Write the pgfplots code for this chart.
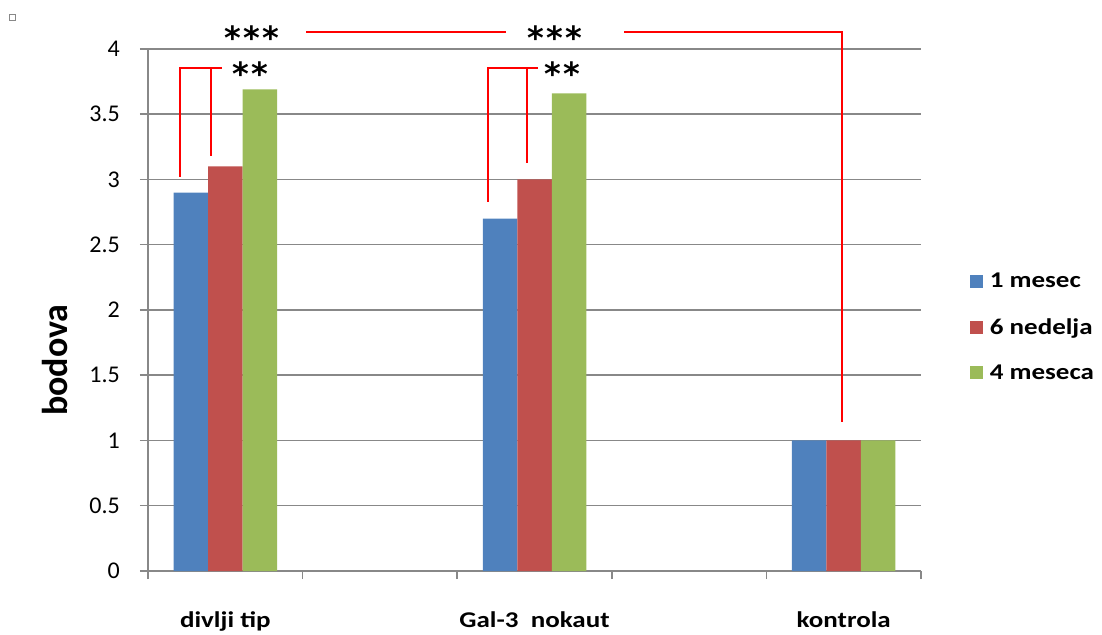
\documentclass[border=0pt]{standalone}
\usepackage{pgfplots}
\pgfplotsset{compat=1.18}
\usepackage{fontspec}
\setmainfont{Carlito}
\newfontfamily\djv{DejaVu Sans}
\definecolor{cblue}{HTML}{4F81BD}
\definecolor{cred}{HTML}{C0504D}
\definecolor{cgreen}{HTML}{9BBB59}
\definecolor{cgrid}{HTML}{888888}
\newcommand{\bx}[1]{\scalebox{1.2}[1]{\bfseries #1}}
\begin{document}
\begin{tikzpicture}
\path[use as bounding box] (0,0) rectangle (1102bp,635bp);
\draw[cgrid, line width=1bp] (9bp,614bp) rectangle (15bp,620bp);
\begin{axis}[
  at={(148bp,64bp)}, anchor=south west,
  scale only axis, width=773bp, height=522bp,
  xmin=-0.5, xmax=4.5, ymin=0, ymax=4,
  ybar=0pt, bar width=34.5bp,
  axis lines*=left,
  axis line style={cgrid, line width=1.5bp},
  tick style={cgrid, line width=1.5bp},
  tick align=outside, major tick length=8bp,
  ytick={0,0.5,...,4},
  yticklabels={0,0.5,1,1.5,2,2.5,3,3.5,4},
  ymajorgrids, grid style={cgrid, line width=1.5bp},
  xtick={-0.5,0.5,1.5,2.5,3.5,4.5},
  xticklabels={},
  extra x ticks={0,2,4},
  extra x tick labels={\bx{divlji tip},\bx{Gal-3\ \ nokaut},\bx{kontrola}},
  extra x tick style={major tick length=0pt, grid=none,
     xticklabel style={anchor=base, yshift=-56bp, font=\fontsize{22.5bp}{26bp}\selectfont}},
  yticklabel style={font=\fontsize{24bp}{28bp}\selectfont, anchor=east, inner sep=0pt, xshift=-20bp},
  /pgf/number format/assume math mode=true,
  ylabel={\bfseries bodova},
  ylabel style={at={(axis description cs:-0.12,0.404)}, anchor=center, font=\fontsize{36bp}{38bp}\selectfont},
  legend style={draw=none, fill=none, at={(1.063,0.4674)}, anchor=west, inner sep=0pt,
     font=\fontsize{22.5bp}{26bp}\selectfont, row sep=25bp, cells={anchor=west}},
  legend image code/.code={\fill[#1] (0bp,-6.5bp) rectangle (13bp,6.5bp);},
  clip=false,
]
\addplot[fill=cblue, draw=none] coordinates {(0,2.90) (2,2.70) (4,1.00)};
\addplot[fill=cred, draw=none] coordinates {(0,3.10) (2,3.00) (4,1.00)};
\addplot[fill=cgreen, draw=none] coordinates {(0,3.69) (2,3.66) (4,1.00)};
\legend{\hspace{5bp}\bx{1 mesec},\hspace{5bp}\bx{6 nedelja},\hspace{5bp}\bx{4 meseca}}
\draw[red, line width=2bp] (axis cs:-0.291,3.021) -- (axis cs:-0.291,3.857) -- (axis cs:-0.023,3.857);
\draw[red, line width=2bp] (axis cs:-0.094,3.182) -- (axis cs:-0.094,3.857);
\draw[red, line width=2bp] (axis cs:1.701,2.830) -- (axis cs:1.701,3.857) -- (axis cs:2.025,3.857);
\draw[red, line width=2bp] (axis cs:1.953,3.129) -- (axis cs:1.953,3.857);
\draw[red, line width=2bp] (axis cs:0.522,4.129) -- (axis cs:1.816,4.129);
\draw[red, line width=2bp] (axis cs:2.579,4.129) -- (axis cs:3.987,4.129) -- (axis cs:3.987,1.144);
\node[font=\djv\fontsize{32bp}{36bp}\selectfont\bfseries, anchor=center, inner sep=0pt] at (axis cs:0.173,4.09) {*\kern2.5bp*\kern2.5bp*};
\node[font=\djv\fontsize{32bp}{36bp}\selectfont\bfseries, anchor=center, inner sep=0pt] at (axis cs:2.133,4.09) {*\kern2.5bp*\kern2.5bp*};
\node[font=\djv\fontsize{32bp}{36bp}\selectfont\bfseries, anchor=center, inner sep=0pt] at (axis cs:0.160,3.81) {*\kern2.5bp*};
\node[font=\djv\fontsize{32bp}{36bp}\selectfont\bfseries, anchor=center, inner sep=0pt] at (axis cs:2.178,3.81) {*\kern2.5bp*};
\end{axis}
\end{tikzpicture}
\end{document}
